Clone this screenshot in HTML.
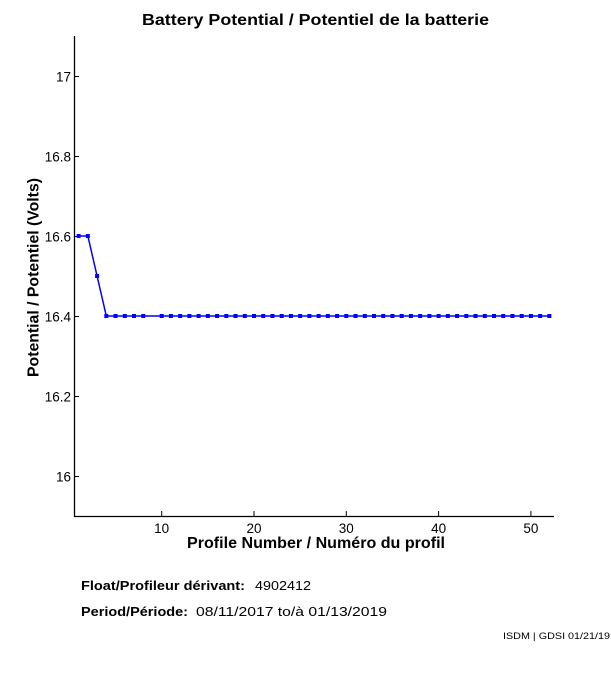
<!DOCTYPE html>
<html><head><meta charset="utf-8"><style>
html,body{margin:0;padding:0;background:#fff;}
svg{display:block;}
text{font-family:"Liberation Sans",Arial,sans-serif;fill:#000;}
</style></head><body>
<svg width="611" height="675" viewBox="0 0 611 675" xmlns="http://www.w3.org/2000/svg">
<rect width="611" height="675" fill="#fff"/>
<text x="315.5" y="25" font-size="16" font-weight="bold" text-anchor="middle" textLength="347" lengthAdjust="spacingAndGlyphs">Battery Potential / Potentiel de la batterie</text>
<line x1="74.5" y1="36" x2="74.5" y2="517" stroke="#000" stroke-width="1.3"/>
<line x1="74" y1="516.5" x2="554" y2="516.5" stroke="#000" stroke-width="1.3"/>
<g stroke="#000" stroke-width="1">
<line x1="74" y1="476.5" x2="79" y2="476.5"/>
<line x1="74" y1="396.5" x2="79" y2="396.5"/>
<line x1="74" y1="316.5" x2="79" y2="316.5"/>
<line x1="74" y1="236.5" x2="79" y2="236.5"/>
<line x1="74" y1="156.5" x2="79" y2="156.5"/>
<line x1="74" y1="76.5" x2="79" y2="76.5"/>
<line x1="161.7" y1="511" x2="161.7" y2="516"/>
<line x1="254" y1="511" x2="254" y2="516"/>
<line x1="346.3" y1="511" x2="346.3" y2="516"/>
<line x1="438.6" y1="511" x2="438.6" y2="516"/>
<line x1="530.9" y1="511" x2="530.9" y2="516"/>
</g>
<g font-size="13.5" text-anchor="end">
<text x="71" y="481.5">16</text>
<text x="71" y="401.5">16.2</text>
<text x="71" y="321.5">16.4</text>
<text x="71" y="241.5">16.6</text>
<text x="71" y="161.5">16.8</text>
<text x="71" y="81.5">17</text>
</g>
<g font-size="13.5" text-anchor="middle">
<text x="161.7" y="533">10</text>
<text x="254" y="533">20</text>
<text x="346.3" y="533">30</text>
<text x="438.6" y="533">40</text>
<text x="530.9" y="533">50</text>
</g>
<text x="316" y="548" font-size="16" font-weight="bold" text-anchor="middle" textLength="258" lengthAdjust="spacingAndGlyphs">Profile Number / Numéro du profil</text>
<text transform="translate(38.5,277.5) rotate(-90)" font-size="15.5" font-weight="bold" text-anchor="middle" textLength="199" lengthAdjust="spacingAndGlyphs">Potential / Potentiel (Volts)</text>
<polyline fill="none" stroke="#0000ff" stroke-width="1.5" points="78.62,236 87.85,236 97.08,276 106.31,316 549.38,316"/>
<g fill="#0000ff">
<rect x="76.6" y="234" width="4" height="4"/>
<rect x="85.85" y="234" width="4" height="4"/>
<rect x="95.08" y="274" width="4" height="4"/>
<rect x="104.31" y="314" width="4" height="4"/>
<rect x="113.54" y="314" width="4" height="4"/>
<rect x="122.77" y="314" width="4" height="4"/>
<rect x="132.0" y="314" width="4" height="4"/>
<rect x="141.23" y="314" width="4" height="4"/>
<rect x="159.69" y="314" width="4" height="4"/>
<rect x="168.92" y="314" width="4" height="4"/>
<rect x="178.15" y="314" width="4" height="4"/>
<rect x="187.38" y="314" width="4" height="4"/>
<rect x="196.62" y="314" width="4" height="4"/>
<rect x="205.85" y="314" width="4" height="4"/>
<rect x="215.08" y="314" width="4" height="4"/>
<rect x="224.31" y="314" width="4" height="4"/>
<rect x="233.54" y="314" width="4" height="4"/>
<rect x="242.77" y="314" width="4" height="4"/>
<rect x="252.0" y="314" width="4" height="4"/>
<rect x="261.23" y="314" width="4" height="4"/>
<rect x="270.46" y="314" width="4" height="4"/>
<rect x="279.69" y="314" width="4" height="4"/>
<rect x="288.92" y="314" width="4" height="4"/>
<rect x="298.15" y="314" width="4" height="4"/>
<rect x="307.38" y="314" width="4" height="4"/>
<rect x="316.62" y="314" width="4" height="4"/>
<rect x="325.85" y="314" width="4" height="4"/>
<rect x="335.08" y="314" width="4" height="4"/>
<rect x="344.31" y="314" width="4" height="4"/>
<rect x="353.54" y="314" width="4" height="4"/>
<rect x="362.77" y="314" width="4" height="4"/>
<rect x="372.0" y="314" width="4" height="4"/>
<rect x="381.23" y="314" width="4" height="4"/>
<rect x="390.46" y="314" width="4" height="4"/>
<rect x="399.69" y="314" width="4" height="4"/>
<rect x="408.92" y="314" width="4" height="4"/>
<rect x="418.15" y="314" width="4" height="4"/>
<rect x="427.38" y="314" width="4" height="4"/>
<rect x="436.62" y="314" width="4" height="4"/>
<rect x="445.85" y="314" width="4" height="4"/>
<rect x="455.08" y="314" width="4" height="4"/>
<rect x="464.31" y="314" width="4" height="4"/>
<rect x="473.54" y="314" width="4" height="4"/>
<rect x="482.77" y="314" width="4" height="4"/>
<rect x="492.0" y="314" width="4" height="4"/>
<rect x="501.23" y="314" width="4" height="4"/>
<rect x="510.46" y="314" width="4" height="4"/>
<rect x="519.69" y="314" width="4" height="4"/>
<rect x="528.92" y="314" width="4" height="4"/>
<rect x="538.15" y="314" width="4" height="4"/>
<rect x="547.38" y="314" width="4" height="4"/>
</g>
<text x="81" y="590" font-size="13" font-weight="bold" textLength="164" lengthAdjust="spacingAndGlyphs">Float/Profileur dérivant:</text>
<text x="255" y="590" font-size="13" textLength="56" lengthAdjust="spacingAndGlyphs">4902412</text>
<text x="81" y="616" font-size="13" font-weight="bold" textLength="107" lengthAdjust="spacingAndGlyphs">Period/Période:</text>
<text x="196" y="616" font-size="13" textLength="191" lengthAdjust="spacingAndGlyphs">08/11/2017  to/à  01/13/2019</text>
<text x="503" y="639" font-size="9.5" textLength="107" lengthAdjust="spacingAndGlyphs">ISDM | GDSI 01/21/19</text>
</svg>
</body></html>
